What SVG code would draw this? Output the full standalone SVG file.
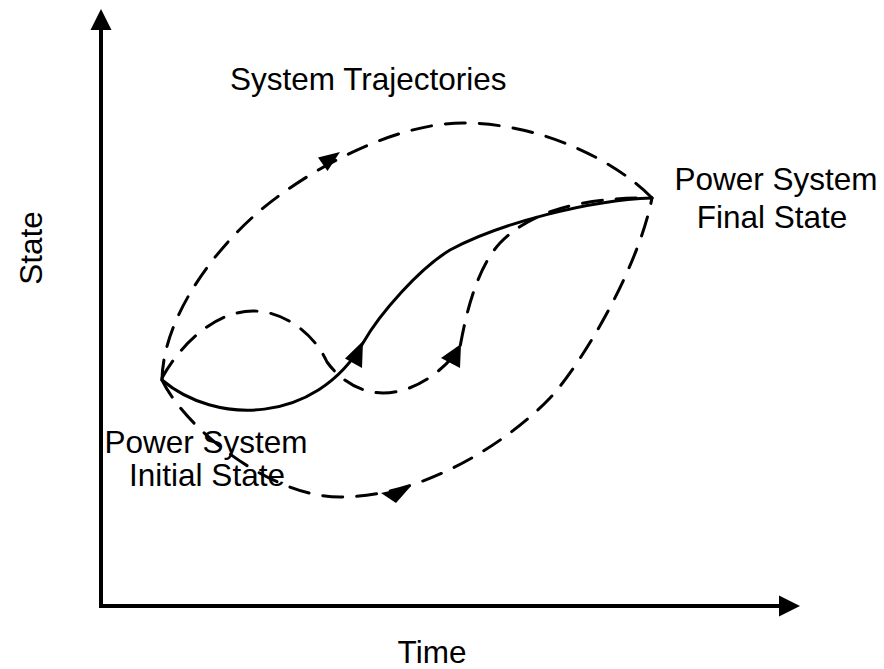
<svg xmlns="http://www.w3.org/2000/svg" width="884" height="669" viewBox="0 0 884 669">
<style>
.lbl{font-family:"Liberation Sans",Arial,sans-serif;font-size:31.5px;fill:#000}
.axis{stroke:#000;stroke-width:4;fill:none}
.solid{stroke:#000;stroke-width:3;fill:none;stroke-linecap:round}
.dash{stroke:#000;stroke-width:3;fill:none;stroke-dasharray:20 14;stroke-linecap:round}
.head{fill:#000}
</style>
<rect width="884" height="669" fill="#fff"/>
<g id="axes">
<line class="axis" x1="101" y1="606" x2="101" y2="28"/>
<polygon class="head" points="101,9 90.5,30 111.5,30"/>
<line class="axis" x1="99" y1="606" x2="781" y2="606"/>
<polygon class="head" points="800,606 779,595.5 779,616.5"/>
</g>
<g id="labels">
<text class="lbl" x="230" y="90">System Trajectories</text>
<text class="lbl" transform="translate(42,248) rotate(-90)" text-anchor="middle">State</text>
<text class="lbl" x="432" y="663" text-anchor="middle">Time</text>
</g>
<g id="initial-state">
<text class="lbl" x="206" y="453" text-anchor="middle">Power System</text>
<text class="lbl" x="207" y="486" text-anchor="middle">Initial State</text>
</g>
<g id="final-state">
<text class="lbl" x="776" y="190" text-anchor="middle">Power System</text>
<text class="lbl" x="772" y="228" text-anchor="middle">Final State</text>
</g>
<g id="connectors">
<path id="outer-top" class="dash" d="M162,380 C163,320 210,255 255,215 C300,175 390,123 463,123 C540,123 615,160 652,198"/>
<polygon class="head" points="340,152 327.5,171 318,157.5"/>
<path id="bottom" class="dash" d="M162,380 C185,428 270,497 340,497 C430,497 515,435 550,398 C580,366 638,270 652,198"/>
<polygon class="head" points="411,486 381,493 396,503"/>
<path id="solid" class="solid" d="M162,380 C215,425 315,425 363,343 C380,313 420,268 450,250 C500,223 590,200 652,198"/>
<polygon class="head" points="363,341 345,358.5 362,368"/>
<path id="inner" class="dash" d="M162,378 C180,345 215,311 253,311 C285,311 315,335 327,362 C340,380 360,393 383,393 C415,393 445,370 460,347 C465,320 475,270 500,243 C530,212 580,197 652,198"/>
<polygon class="head" points="461,344 441,358 460,368"/>
</g>
</svg>
